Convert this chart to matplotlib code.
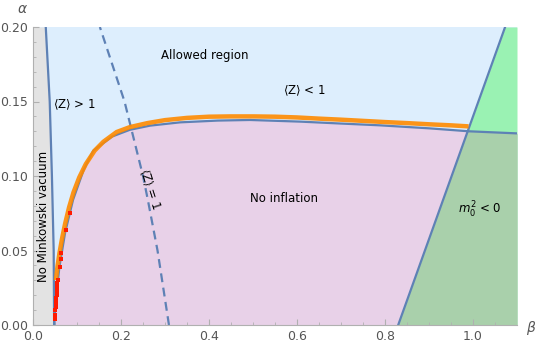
import numpy as np
import matplotlib.pyplot as plt

# boundary of the "no inflation" region (beta, alpha)
curve_beta = [0.048, 0.052, 0.060, 0.073, 0.091, 0.115, 0.137, 0.18, 0.22, 0.266, 0.334,
              0.42, 0.493, 0.607, 0.70, 0.789, 0.90, 0.991, 1.1]
curve_alpha = [0.0, 0.017, 0.039, 0.062, 0.084, 0.104, 0.117, 0.1265, 0.131, 0.1338, 0.136,
               0.1372, 0.1376, 0.1365, 0.1352, 0.134, 0.132, 0.130, 0.1286]

# no Minkowski vacuum boundary (alpha -> beta)
mink_alpha = [0.0, 0.05, 0.10, 0.15, 0.20]
mink_beta = [0.048, 0.047, 0.043, 0.038, 0.029]

# <Z> = 1 dashed line (alpha -> beta)
z1_alpha = [0.0, 0.05, 0.084, 0.10, 0.15, 0.20]
z1_beta = [0.309, 0.283, 0.261, 0.250, 0.208, 0.152]

# m0^2 = 0 line
m0_beta = [0.83, 1.073]
m0_alpha = [0.0, 0.20]

# orange numerical points
orange_beta = [0.052, 0.056, 0.060, 0.066, 0.073, 0.082, 0.092, 0.105, 0.12, 0.14, 0.16,
               0.19, 0.22, 0.26, 0.30, 0.35, 0.40, 0.45, 0.50, 0.55, 0.60, 0.65, 0.70,
               0.75, 0.80, 0.85, 0.90, 0.95, 0.99]
orange_alpha = [0.030, 0.040, 0.048, 0.058, 0.068, 0.079, 0.089, 0.099, 0.108, 0.117, 0.123,
                0.1295, 0.1328, 0.1355, 0.1375, 0.1390, 0.1398, 0.1400, 0.1400, 0.1398,
                0.1393, 0.1385, 0.1378, 0.1370, 0.1362, 0.1355, 0.1347, 0.1340, 0.1333]

# red points
red_beta = [0.050, 0.0505, 0.051, 0.0515, 0.052, 0.0525, 0.053, 0.0535, 0.054, 0.0545,
            0.055, 0.0555, 0.056, 0.061, 0.064, 0.064, 0.075, 0.084]
red_alpha = [0.004, 0.007, 0.010, 0.012, 0.014, 0.016, 0.018, 0.020, 0.022, 0.024,
             0.026, 0.028, 0.030, 0.039, 0.044, 0.048, 0.064, 0.075]

line_col = '#5E81B5'

fig = plt.figure(figsize=(5.4, 3.49), dpi=100)
ax = fig.add_axes([33/540, 24/349, 484/540, 298/349])
ax.set_xlim(0, 1.1)
ax.set_ylim(0, 0.2)

bg = np.linspace(0, 1.1, 1200)
ag = np.linspace(0, 0.2, 600)
cv = np.interp(bg, curve_beta, curve_alpha)
a_green = np.interp(bg, m0_beta, m0_alpha, left=-1, right=1)

# regions
ax.fill_between([0, 1.1], 0, 0.2, color='#DDEEFD', lw=0)
ax.fill_between(bg, 0, cv, where=bg >= curve_beta[0], color='#E8D1E8', lw=0)
ax.fill_betweenx(ag, np.interp(ag, m0_alpha, m0_beta), 1.1, color='#9AF2B3', lw=0)
ax.fill_between(bg, 0, np.minimum(cv, a_green), where=bg >= m0_beta[0],
                color='#A9D0AB', lw=0)
ax.fill_betweenx(ag, 0, np.interp(ag, mink_alpha, mink_beta), color='#E3E3E3', lw=0)

# boundaries
ax.plot(curve_beta, curve_alpha, color=line_col, lw=1.6)
ax.plot(mink_beta, mink_alpha, color=line_col, lw=1.6)
ax.plot(m0_beta, m0_alpha, color=line_col, lw=1.6)
ax.plot(z1_beta, z1_alpha, color=line_col, lw=1.6, ls=(0, (4, 2.5)))

ax.plot(orange_beta, orange_alpha, color='#FF8A00', lw=3.2, alpha=0.9,
        solid_capstyle='butt')
ax.plot(red_beta, red_alpha, 's', color='#FF1A00', ms=3.2, mew=0)

# labels
fs = 8.5
ax.text(0.39, 0.181, 'Allowed region', fontsize=fs, ha='center', va='center')
ax.text(0.095, 0.148, r'$\langle \mathrm{Z} \rangle$ > 1', fontsize=fs, ha='center', va='center')
ax.text(0.618, 0.157, r'$\langle \mathrm{Z} \rangle$ < 1', fontsize=fs, ha='center', va='center')
ax.text(0.265, 0.091, r'$\langle \mathrm{Z} \rangle$ = 1', fontsize=fs, ha='center',
        va='center', rotation=-72)
ax.text(0.57, 0.085, 'No inflation', fontsize=fs, ha='center', va='center')
ax.text(0.025, 0.073, 'No Minkowski vacuum', fontsize=fs, ha='center', va='center',
        rotation=90)
ax.text(1.015, 0.077, r'$m_0^2$ < 0', fontsize=fs, ha='center', va='center')

# axes styling
for s in ['top', 'right']:
    ax.spines[s].set_visible(False)
for s in ['left', 'bottom']:
    ax.spines[s].set_color('#B0B0B0')
ax.set_xticks([0.0, 0.2, 0.4, 0.6, 0.8, 1.0])
ax.set_xticks(np.arange(0, 1.1, 0.05), minor=True)
ax.set_yticks([0.0, 0.05, 0.10, 0.15, 0.20])
ax.set_yticks(np.arange(0, 0.2001, 0.01), minor=True)
ax.set_xticklabels(['0.0', '0.2', '0.4', '0.6', '0.8', '1.0'])
ax.set_yticklabels(['0.00', '0.05', '0.10', '0.15', '0.20'])
ax.tick_params(which='both', direction='in', colors='#B0B0B0', labelcolor='#555555',
               labelsize=9)
ax.tick_params(which='major', length=4)
ax.tick_params(which='minor', length=2)
ax.text(-0.025, 0.212, r'$\alpha$', fontsize=10, color='#555555', ha='center', va='center',
        clip_on=False)
ax.text(1.132, -0.002, r'$\beta$', fontsize=10, color='#555555', ha='center', va='center',
        clip_on=False)

fig.savefig('out.png', dpi=100)
